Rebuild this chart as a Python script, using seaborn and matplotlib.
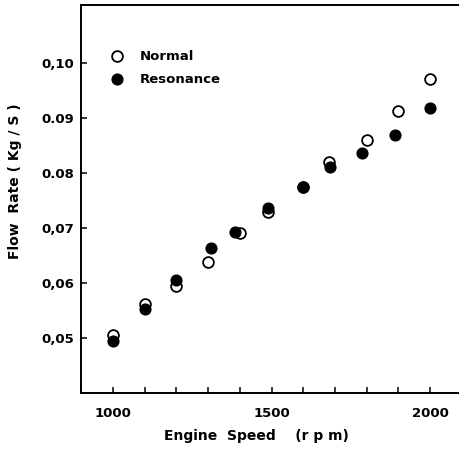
import matplotlib
matplotlib.use("Agg")
import matplotlib.pyplot as plt
from matplotlib.ticker import MultipleLocator, FixedLocator
import seaborn as sns
import pandas as pd

# Data
normal_rpm = [1000, 1100, 1200, 1300, 1400, 1490, 1600, 1680, 1800, 1900, 2000]
normal_flow = [0.0506, 0.0562, 0.0594, 0.0639, 0.0692, 0.0730, 0.0775, 0.0820, 0.0861, 0.0914, 0.0972]
reson_rpm = [1000, 1100, 1200, 1310, 1385, 1490, 1600, 1685, 1785, 1890, 2000]
reson_flow = [0.0494, 0.0553, 0.0606, 0.0663, 0.0693, 0.0736, 0.0775, 0.0811, 0.0836, 0.0870, 0.0919]
y_ticks = [0.05, 0.06, 0.07, 0.08, 0.09, 0.10]
y_tick_labels = ["0,05", "0,06", "0,07", "0.08", "0.09", "0,10"]
x_ticks = [1000, 1500, 2000]
x_tick_labels = ["1000", "1500", "2000"]

df_n = pd.DataFrame({"rpm": normal_rpm, "flow": normal_flow})
df_r = pd.DataFrame({"rpm": reson_rpm, "flow": reson_flow})

sns.set_style("white")
plt.rcParams["font.family"] = ["DejaVu Sans"]
plt.rcParams["font.weight"] = "bold"
plt.rcParams["text.color"] = "black"
plt.rcParams["axes.labelcolor"] = "black"
plt.rcParams["xtick.color"] = "black"
plt.rcParams["ytick.color"] = "black"

fig = plt.figure(figsize=(4.6, 4.49), dpi=100)
ax = fig.add_axes([81 / 460, 56 / 449, 381 / 460, 388 / 449])

sns.scatterplot(data=df_n, x="rpm", y="flow", ax=ax, s=60, marker="o",
                facecolor="white", edgecolor="black", linewidth=1.3,
                label="Normal", zorder=3)
sns.scatterplot(data=df_r, x="rpm", y="flow", ax=ax, s=60, marker="o",
                color="black", edgecolor="black", linewidth=1.0,
                label="Resonance", zorder=4)

ax.set_xlim(900, 2100)
ax.set_ylim(0.04, 0.1106)

ax.xaxis.set_major_locator(FixedLocator(x_ticks))
ax.set_xticklabels(x_tick_labels)
ax.xaxis.set_minor_locator(MultipleLocator(100))
ax.yaxis.set_major_locator(FixedLocator(y_ticks))
ax.set_yticklabels(y_tick_labels)

ax.tick_params(axis="both", which="both", direction="in", length=4, width=1.1,
               colors="black", labelsize=9.5)
ax.tick_params(axis="x", pad=10)
ax.tick_params(axis="y", pad=5)
ax.tick_params(bottom=True, left=True, which="both")
ax.tick_params(axis="y", which="minor", left=False)

for sp in ax.spines.values():
    sp.set_color("black")
    sp.set_linewidth(1.4)
ax.spines["right"].set_visible(False)

ax.set_xlabel("Engine  Speed    (r p m)", fontsize=10, fontweight="bold")
ax.xaxis.set_label_coords((256 - 81) / 381, -(429 - 393) / 388)
ax.set_ylabel("Flow  Rate ( Kg / S )", fontsize=10, fontweight="bold")
ax.yaxis.set_label_coords(-(81 - 22) / 381, (393 - 181) / 388)

leg = ax.legend(loc="upper left", bbox_to_anchor=(0.03, 0.915), frameon=False,
                handletextpad=0.7, labelspacing=0.75,
                prop={"weight": "bold", "size": 9.5})

fig.savefig("out.png", dpi=100)
